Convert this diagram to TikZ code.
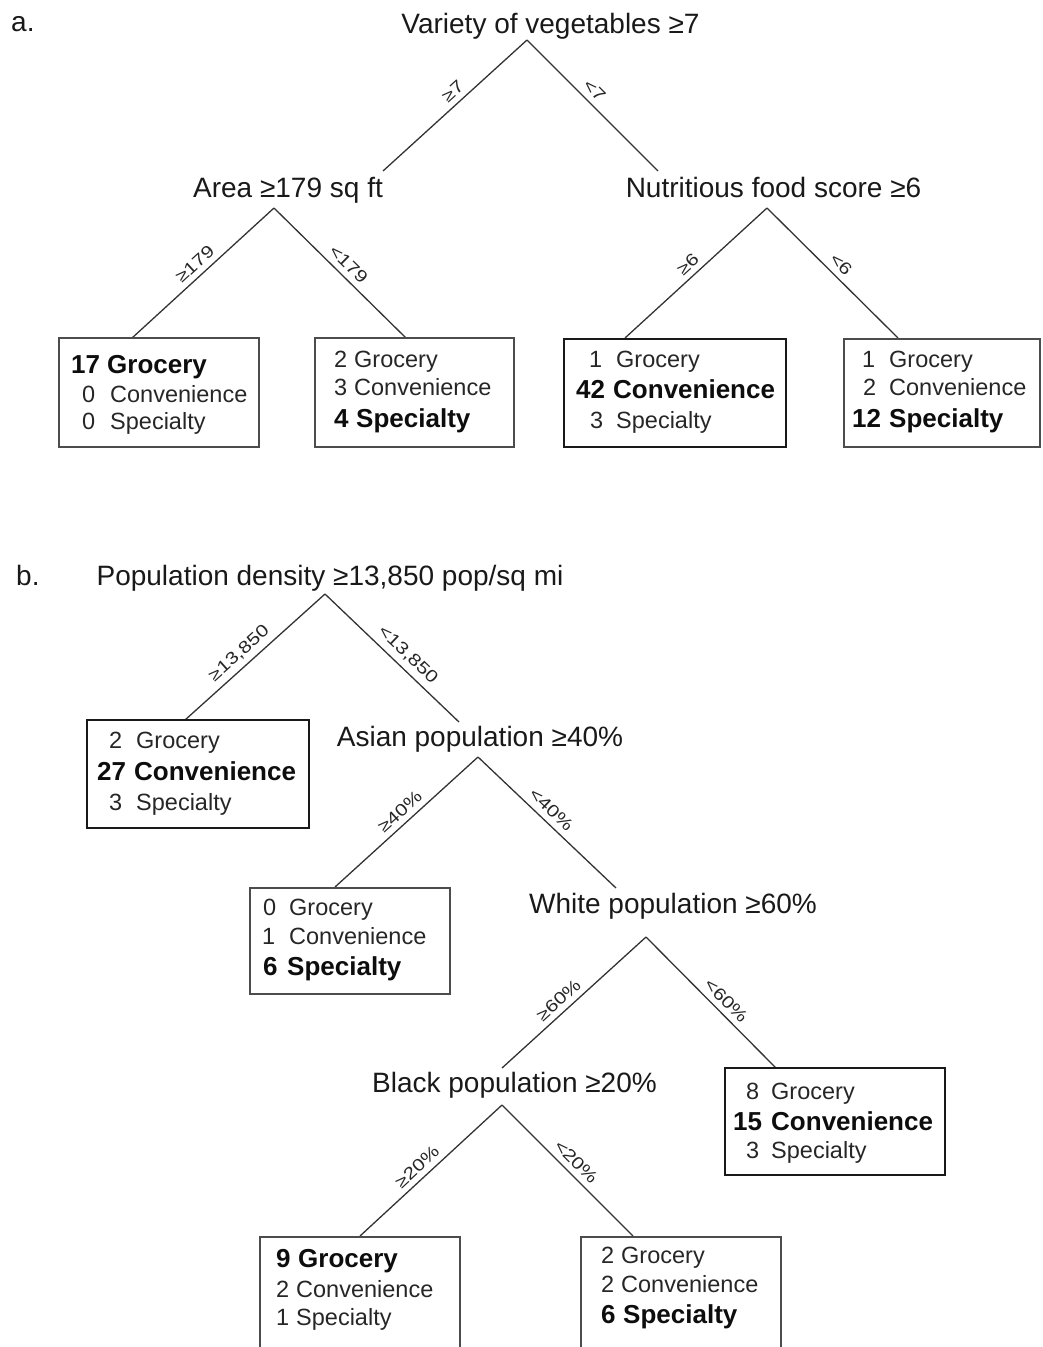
\documentclass[tikz,border=0pt]{standalone}
\usepackage{fontspec}
\setmainfont{Liberation Sans}
\newcommand\lbltext[1]{\scalebox{1.22}[1]{#1}}
\newcommand\leafrow[7]{%
  \node[#7, anchor=base west] (#1n) at (#2,#4) {#5};
  \node[#7, anchor=base west] (#1t) at (#3,#4) {#6};}
\tikzset{
  hd/.style={font=\fontsize{28}{30}\selectfont, inner sep=0pt, anchor=base, text=black!90},
  br/.style={line width=1.3pt, draw=black!80},
  lab/.style={sloped, above=4.5pt, inner sep=1pt, font=\fontsize{17}{17}\selectfont, text=black!85},
  leafbox/.style={draw=black!70, line width=1.3pt, inner sep=0pt},
  leafthick/.style={draw=black!90, line width=2pt, inner sep=0pt},
  nm/.style={font=\fontsize{23.5}{25}\selectfont, inner sep=0pt, text=black!85},
  nb/.style={font=\fontsize{26}{28}\selectfont\bfseries, inner sep=0pt, text=black!95}
}
\begin{document}
\begin{tikzpicture}[x=1pt,y=-1pt]
\useasboundingbox (0,0) rectangle (1042,1347);
% ---------------- panel a ----------------
\node[hd, anchor=base west] (pa) at (11,31) {a.};
\node[hd] (ra) at (550.5,33) {Variety of vegetables ≥7};
\coordinate (va) at (527,40);
\coordinate (ea1) at (383,171);
\coordinate (ea2) at (658,171);
\draw[br] (va) -- node[lab, pos=.46] {\lbltext{≥7}} (ea1);
\draw[br] (va) -- node[lab, pos=.45] {\lbltext{<7}} (ea2);

\node[hd] (area) at (288,197) {Area ≥179 sq ft};
\node[hd] (nutr) at (773.5,197) {Nutritious food score ≥6};
\coordinate (vb) at (274,208);
\coordinate (eb1) at (132,338);
\coordinate (eb2) at (406,338);
\coordinate (vc) at (767,208);
\coordinate (ec1) at (625,338);
\coordinate (ec2) at (898,338);
\draw[br] (vb) -- node[lab, pos=.5] {\lbltext{≥179}} (eb1);
\draw[br] (vb) -- node[lab, pos=.5] {\lbltext{<179}} (eb2);
\draw[br] (vc) -- node[lab, pos=.5] {\lbltext{≥6}} (ec1);
\draw[br] (vc) -- node[lab, pos=.5] {\lbltext{<6}} (ec2);

\node[leafbox, minimum width=200pt, minimum height=109pt] (B1) at (159,392.5) {};
\node[leafbox, minimum width=199pt, minimum height=109pt] (B2) at (414.5,392.5) {};
\node[leafthick, minimum width=222pt, minimum height=108pt] (B3) at (675,393) {};
\node[leafbox, minimum width=196pt, minimum height=108pt] (B4) at (942,393) {};

\leafrow{b1a}{71}{107}{373}{17}{Grocery}{nb}
\leafrow{b1b}{82}{110}{402}{0}{Convenience}{nm}
\leafrow{b1c}{82}{110}{429}{0}{Specialty}{nm}

\leafrow{b2a}{334}{354}{367}{2}{Grocery}{nm}
\leafrow{b2b}{334}{354}{395}{3}{Convenience}{nm}
\leafrow{b2c}{334}{356}{427}{4}{Specialty}{nb}

\leafrow{b3a}{589}{616}{367}{1}{Grocery}{nm}
\leafrow{b3b}{576}{613}{398}{42}{Convenience}{nb}
\leafrow{b3c}{590}{616}{428}{3}{Specialty}{nm}

\leafrow{b4a}{862}{889}{367}{1}{Grocery}{nm}
\leafrow{b4b}{863}{889}{395}{2}{Convenience}{nm}
\leafrow{b4c}{852}{889}{427}{12}{Specialty}{nb}

% ---------------- panel b ----------------
\node[hd, anchor=base west] (pb) at (16,585) {b.};
\node[hd] (rb) at (330,585) {Population density ≥13,850 pop/sq mi};
\coordinate (vd) at (325,594);
\coordinate (ed1) at (185,720);
\coordinate (ed2) at (459,722);
\draw[br] (vd) -- node[lab, pos=.55] {\lbltext{≥13,850}} (ed1);
\draw[br] (vd) -- node[lab, pos=.55] {\lbltext{<13,850}} (ed2);

\node[leafthick, minimum width=222pt, minimum height=108pt] (C1) at (198,774) {};
\leafrow{c1a}{109}{136}{748}{2}{Grocery}{nm}
\leafrow{c1b}{97}{134}{780}{27}{Convenience}{nb}
\leafrow{c1c}{109}{136}{810}{3}{Specialty}{nm}

\node[hd] (asian) at (480,746) {Asian population ≥40\%};
\coordinate (ve) at (478,757);
\coordinate (ee1) at (335,887);
\coordinate (ee2) at (616,888);
\draw[br] (ve) -- node[lab, pos=.49] {\lbltext{≥40\%}} (ee1);
\draw[br] (ve) -- node[lab, pos=.47] {\lbltext{<40\%}} (ee2);

\node[leafbox, minimum width=200pt, minimum height=106pt] (C2) at (350,941) {};
\leafrow{c2a}{263}{289}{915}{0}{Grocery}{nm}
\leafrow{c2b}{262}{289}{944}{1}{Convenience}{nm}
\leafrow{c2c}{263}{287}{975}{6}{Specialty}{nb}

\node[hd] (white) at (673,913) {White population ≥60\%};
\coordinate (vf) at (646,937);
\coordinate (ef1) at (502,1068);
\coordinate (ef2) at (776,1068);
\draw[br] (vf) -- node[lab, pos=.55] {\lbltext{≥60\%}} (ef1);
\draw[br] (vf) -- node[lab, pos=.55] {\lbltext{<60\%}} (ef2);

\node[leafthick, minimum width=220pt, minimum height=107pt] (C3) at (835,1121.5) {};
\leafrow{c3a}{746}{771}{1099}{8}{Grocery}{nm}
\leafrow{c3b}{733}{771}{1130}{15}{Convenience}{nb}
\leafrow{c3c}{746}{771}{1158}{3}{Specialty}{nm}

\node[hd] (black) at (514.5,1092) {Black population ≥20\%};
\coordinate (vg) at (502,1105);
\coordinate (eg1) at (360,1236);
\coordinate (eg2) at (633,1236);
\draw[br] (vg) -- node[lab, pos=.54] {\lbltext{≥20\%}} (eg1);
\draw[br] (vg) -- node[lab, pos=.5] {\lbltext{<20\%}} (eg2);

\node[leafbox, minimum width=200pt, minimum height=112pt] (C4) at (360,1293) {};
\leafrow{c4a}{276}{298}{1267}{9}{Grocery}{nb}
\leafrow{c4b}{276}{296}{1297}{2}{Convenience}{nm}
\leafrow{c4c}{276}{296}{1325}{1}{Specialty}{nm}

\node[leafbox, minimum width=200pt, minimum height=112pt] (C5) at (681,1293) {};
\leafrow{c5a}{601}{621}{1263}{2}{Grocery}{nm}
\leafrow{c5b}{601}{621}{1292}{2}{Convenience}{nm}
\leafrow{c5c}{601}{623}{1323}{6}{Specialty}{nb}
\end{tikzpicture}
\end{document}
